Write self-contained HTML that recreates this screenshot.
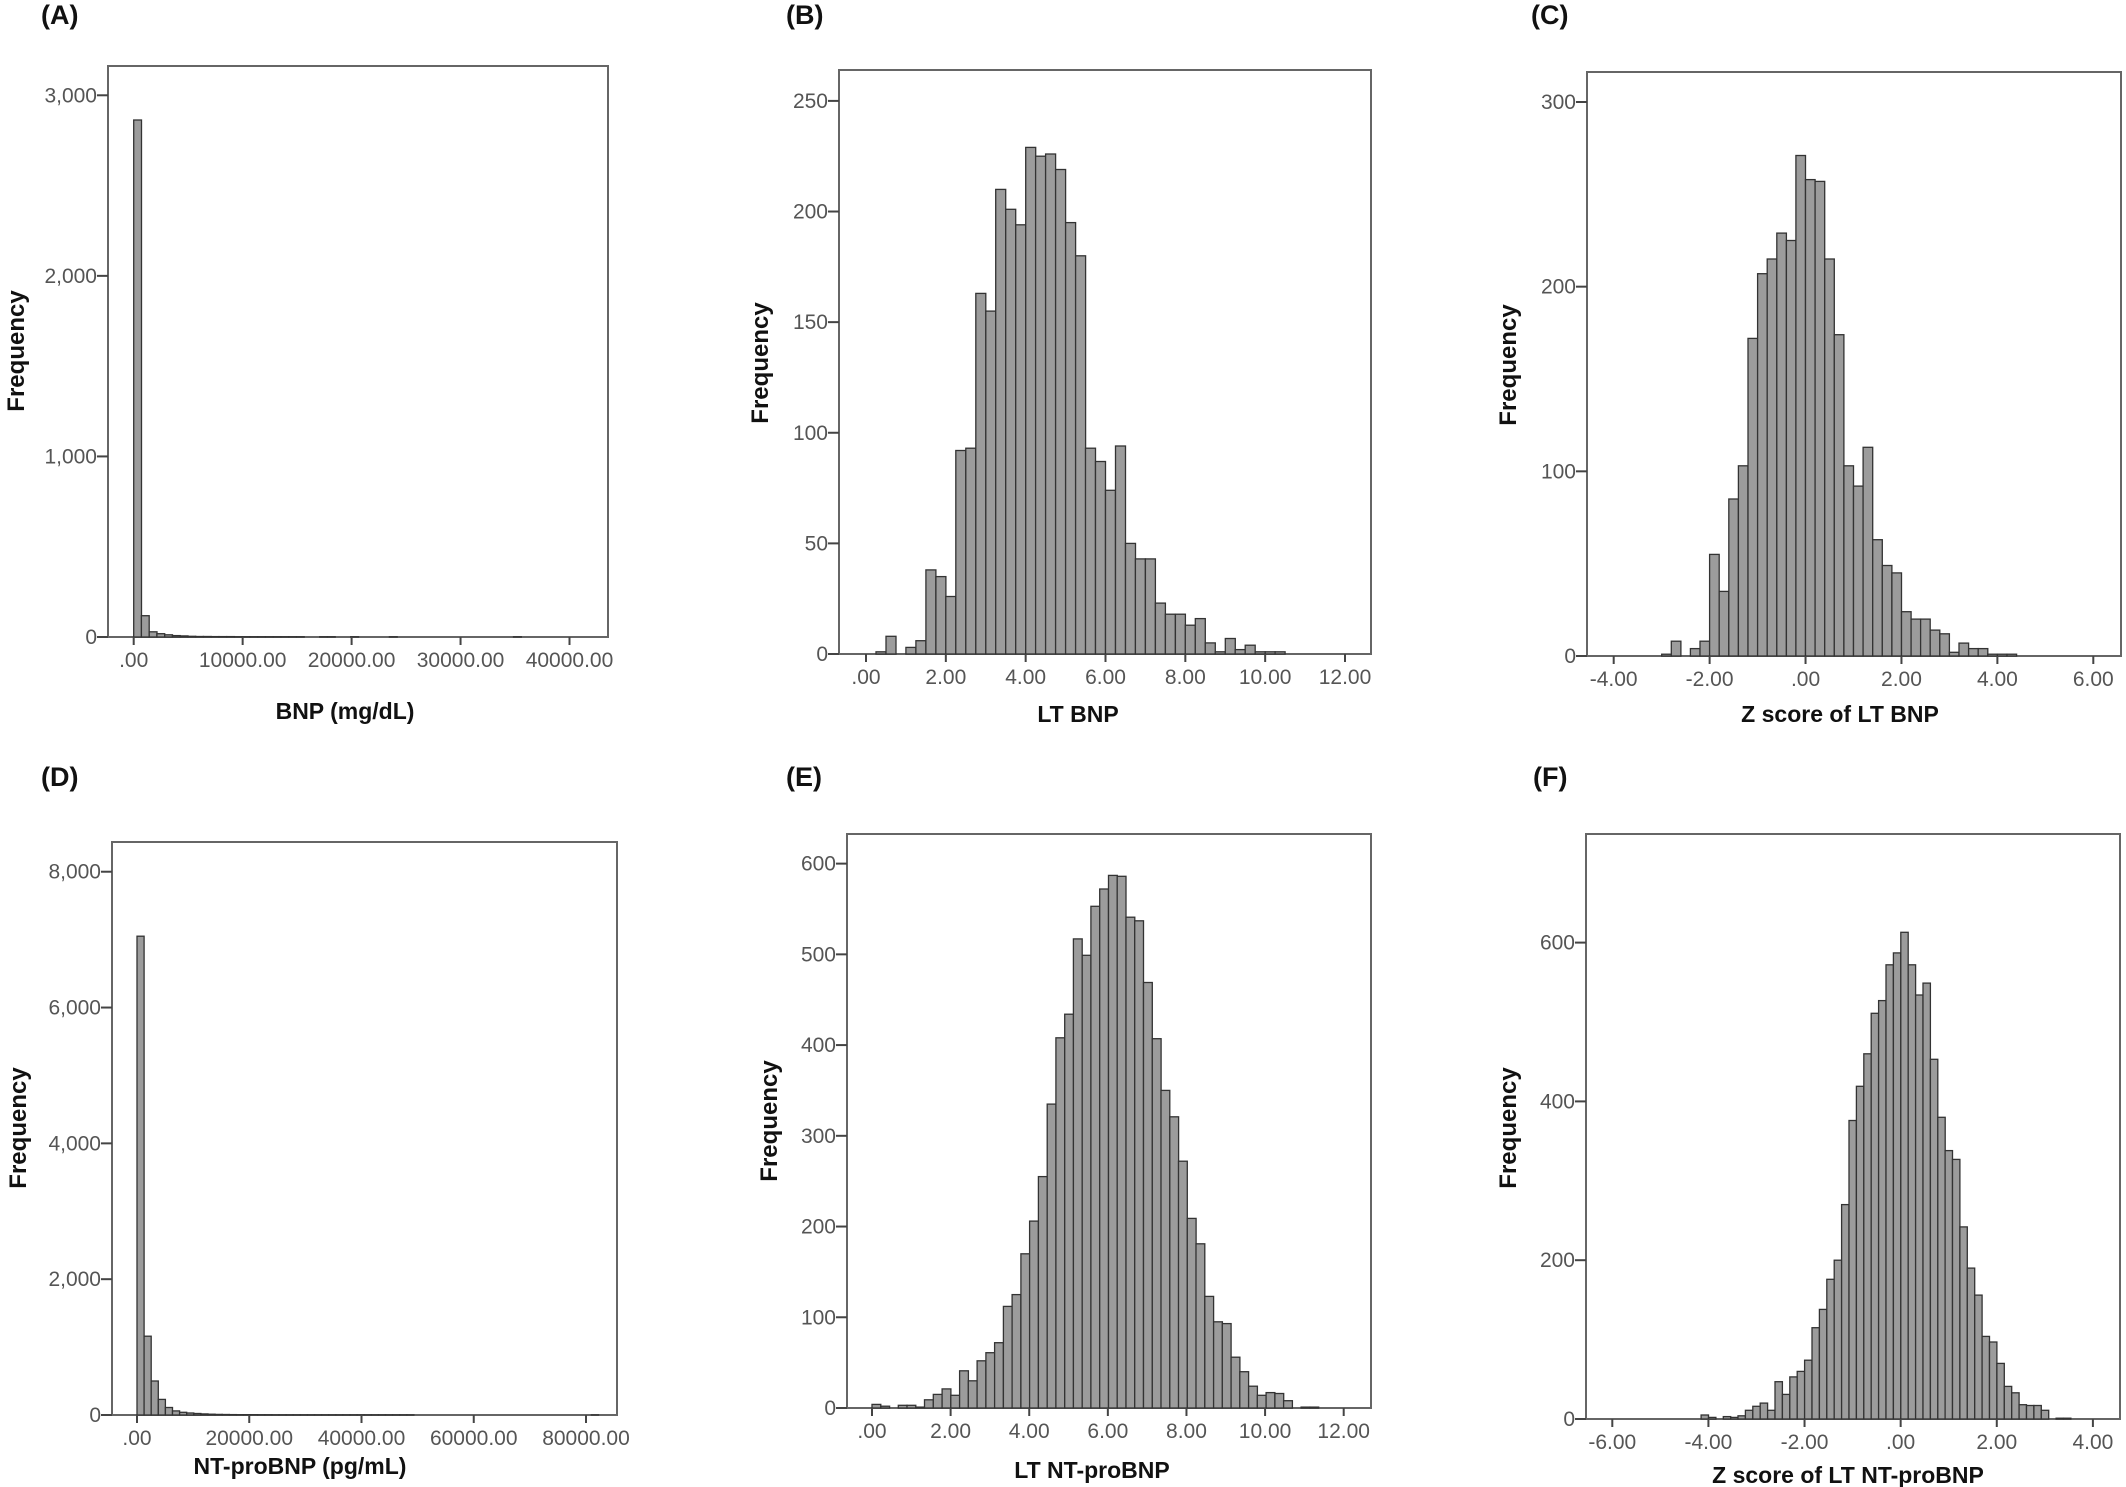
<!DOCTYPE html>
<html><head><meta charset="utf-8"><style>
html,body{margin:0;padding:0;background:#fff;}
svg{display:block;}
text{font-family:"Liberation Sans",Arial,sans-serif;}
.tl{fill:#555;font-size:21px;}
.tt{fill:#111;font-size:23px;font-weight:bold;}
.pl{fill:#111;font-size:27px;font-weight:bold;}
</style></head><body>
<svg id="s" width="2126" height="1487" xmlns="http://www.w3.org/2000/svg"></svg>
<script>
const S=document.getElementById('s');let h='';
function P(o){
 const [fx0,fx1,fy0,fy1]=o.frame;
 h+=`<rect x="${fx0}" y="${fy0}" width="${fx1-fx0}" height="${fy1-fy0}" fill="#fff" stroke="#666" stroke-width="2"/>`;
 o.bars.forEach((v,i)=>{if(v<=0)return;const x=o.bx0+i*o.bw;const hh=v*o.ys;
  h+=`<rect x="${x.toFixed(1)}" y="${(o.y0-hh).toFixed(1)}" width="${o.bw.toFixed(1)}" height="${hh.toFixed(1)}" fill="#9c9c9c" stroke="#333" stroke-width="1.3"/>`;});
 o.yt.forEach(([v,l])=>{const y=o.y0-v*o.ys;
  h+=`<line x1="${fx0-11}" y1="${y}" x2="${fx0}" y2="${y}" stroke="#444" stroke-width="2"/>`;
  h+=`<text class="tl" x="${fx0-11}" y="${y+7}" text-anchor="end">${l}</text>`;});
 o.xt.forEach(([v,l])=>{const x=o.x0+v*o.xs;
  h+=`<line x1="${x}" y1="${fy1}" x2="${x}" y2="${fy1+8}" stroke="#444" stroke-width="2"/>`;
  h+=`<text class="tl" x="${x}" y="${fy1+30}" text-anchor="middle">${l}</text>`;});
 h+=`<text class="tt" x="${o.tx}" y="${o.ty+8}" text-anchor="middle">${o.title}</text>`;
 h+=`<text class="tt" transform="translate(${o.fx+8},${o.fy}) rotate(-90)" text-anchor="middle" style="font-size:24px">Frequency</text>`;
 h+=`<text class="pl" x="${o.lx}" y="${o.ly+10}">${o.lab}</text>`;
}
const fmt=v=>v===0?'.00':v.toFixed(2);
const rng=(a,b,s)=>{const r=[];for(let v=a;v<=b+1e-9;v+=s)r.push(v);return r;};
const com=v=>v.toLocaleString('en-US');
// A
P({frame:[108,608,66,637],y0:637,ys:0.18057,x0:133.7,xs:(569.5-133.7)/40000,
 bx0:133.7,bw:7.75,bars:[2863,118,29,18,12,8,6,4,3,3,2,2,2,1,1,1,1,1,1,1,1,1,0,0,1,1,0,0,1,0,0,0,0,1,0,0,0,0,0,0,0,0,0,0,0,0,0,0,0,1],
 yt:[0,1000,2000,3000].map(v=>[v,com(v)]),xt:rng(0,40000,10000).map(v=>[v,fmt(v)]),
 title:'BNP (mg/dL)',tx:345,ty:711,fx:16,fy:351,lab:'(A)',lx:41,ly:14});
// B
P({frame:[839,1371,70,654],y0:654,ys:2.2124,x0:866,xs:(1345-866)/12,
 bx0:866+0.25*39.917,bw:0.25*39.917,
 bars:[1,8,0,3,6,38,35,26,92,93,163,155,210,201,194,229,225,226,219,195,180,93,87,74,94,50,43,43,23,18,18,13,16,5,1,7,2,4,1,1,1],
 yt:rng(0,250,50).map(v=>[v,''+v]),xt:rng(0,12,2).map(v=>[v,fmt(v)]),
 title:'LT BNP',tx:1078,ty:714,fx:760,fy:363,lab:'(B)',lx:786,ly:14});
// C
{const xs=(2093.3-1613.7)/10,x0=1613.7+4*xs;
P({frame:[1587,2121,72,656],y0:656,ys:1.8467,x0:x0,xs:xs,bx0:x0-3*xs,bw:0.2*xs,
 bars:[1,8,0,4,8,55,35,85,103,172,207,215,229,225,271,258,257,215,174,103,92,113,63,49,45,24,20,20,14,12,2,7,4,4,1,1,1],
 yt:[0,100,200,300].map(v=>[v,''+v]),xt:rng(-4,6,2).map(v=>[v,fmt(v)]),
 title:'Z score of LT BNP',tx:1840,ty:714,fx:1508,fy:365,lab:'(C)',lx:1531,ly:14});}
// D
P({frame:[112,617,842,1415],y0:1415,ys:0.06791,x0:137,xs:(586-137)/80000,
 bx0:137,bw:7.1,bars:[7050,1160,500,230,110,60,40,30,22,16,12,9,7,6,5,4,4,3,3,2,2,2,2,2,1,1,1,1,1,1,1,1,1,1,1,1,1,1,1,0,0,0,0,0,0,0,0,0,0,0,0,0,0,0,0,0,0,0,0,0,0,0,0,0,1],
 yt:rng(0,8000,2000).map(v=>[v,com(v)]),xt:rng(0,80000,20000).map(v=>[v,fmt(v)]),
 title:'NT-proBNP (pg/mL)',tx:300,ty:1466,fx:18,fy:1128,lab:'(D)',lx:41,ly:776});
// E
{const xs=(1343.7-872)/12;
P({frame:[847,1371,834,1408],y0:1408,ys:0.9073,x0:872,xs:xs,bx0:872,bw:0.2228*xs,
 bars:[4,2,0,3,3,1,9,15,21,14,41,30,52,61,72,112,125,170,206,255,335,408,434,517,499,553,572,587,586,541,537,469,407,350,321,272,209,181,123,95,93,56,40,24,14,17,16,8,0,1,1],
 yt:rng(0,600,100).map(v=>[v,''+v]),xt:rng(0,12,2).map(v=>[v,fmt(v)]),
 title:'LT NT-proBNP',tx:1092,ty:1470,fx:769,fy:1121,lab:'(E)',lx:786,ly:776});}
// F
{const xs=(2092.9-1612.3)/10,x0=1612.3+6*xs;
P({frame:[1586,2120,834,1419],y0:1419,ys:0.794,x0:x0,xs:xs,bx0:x0-4.153*xs,bw:0.1539*xs,
 bars:[5,2,0,3,2,4,11,16,20,11,47,31,53,60,74,115,138,176,200,270,376,419,460,511,527,572,587,613,572,534,549,453,380,338,327,242,190,156,104,97,70,41,33,18,17,17,11,0,1,1],
 yt:[0,200,400,600].map(v=>[v,''+v]),xt:rng(-6,4,2).map(v=>[v,fmt(v)]),
 title:'Z score of LT NT-proBNP',tx:1848,ty:1475,fx:1508,fy:1128,lab:'(F)',lx:1533,ly:776});}
S.innerHTML=h;
</script>
</body></html>
